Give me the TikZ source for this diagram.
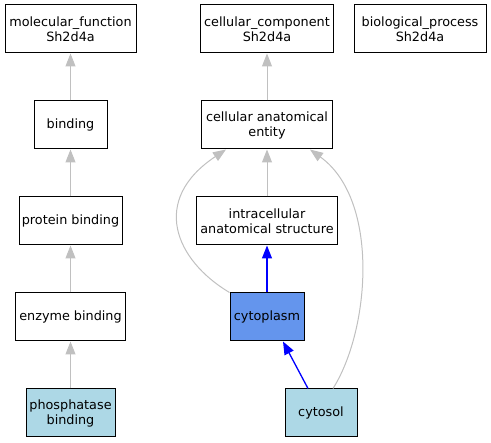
\documentclass[tikz,border=0pt]{standalone}
\usepackage{fontspec}
\setmainfont{DejaVu Sans}
\usepackage{xcolor}
\usetikzlibrary{arrows.meta}

\definecolor{edgegray}{HTML}{C0C0C0}
\definecolor{cytoblue}{HTML}{6495ED}
\definecolor{lightcyan}{HTML}{ADD8E6}

\tikzset{
    goterm/.style={draw=black, line width=1pt, align=center, inner sep=0pt,
        minimum height=48pt, font=\fontsize{12.8}{15}\selectfont},
    isa/.style={draw=edgegray, line width=1pt, -{Triangle[length=13pt,width=10pt]}},
    partof/.style={draw=blue, line width=1.3pt, -{Triangle[length=13pt,width=10pt]}}
}

\begin{document}
\begin{tikzpicture}[x=1pt, y=-1pt]
        \useasboundingbox (0,0) rectangle (491,443);

        % Draw the three roots
        \node[goterm, minimum width=131pt] (mf) at (70.5, 29) {molecular\_function\\Sh2d4a};
        \node[goterm, minimum width=133pt] (cc) at (267, 29) {cellular\_component\\Sh2d4a};
        \node[goterm, minimum width=132pt] (bp) at (420, 29) {biological\_process\\Sh2d4a};

        % Draw the function branch
        \node[goterm, minimum width=73pt] (binding) at (70.5, 125) {binding};
        \node[goterm, minimum width=103pt] (protein) at (70.5, 221) {protein binding};
        \node[goterm, minimum width=110pt] (enzyme) at (70.5, 317) {enzyme binding};
        \node[goterm, fill=lightcyan, minimum width=89pt] (phosphatase) at (70.5, 413) {phosphatase\\binding};

        % Draw the component branch
        \node[goterm, minimum width=131pt] (cae) at (267, 125) {cellular anatomical\\entity};
        \node[goterm, minimum width=141pt] (intra) at (267, 221) {intracellular\\anatomical structure};
        \node[goterm, fill=cytoblue, minimum width=74pt] (cytoplasm) at (267, 317) {cytoplasm};
        \node[goterm, fill=lightcyan, minimum width=72pt] (cytosol) at (321, 413) {cytosol};

        % Connect them
        \draw[isa] (binding) -- (mf);
        \draw[isa] (protein) -- (binding);
        \draw[isa] (enzyme) -- (protein);
        \draw[isa] (phosphatase) -- (enzyme);
        \draw[isa] (cae) -- (cc);
        \draw[isa] (intra) -- (cae);
        \draw[partof] (cytoplasm) -- (intra);
        \draw[partof] ([xshift=-13pt]cytosol.north) -- ([xshift=16pt]cytoplasm.south);
        \draw[isa] (cytoplasm.north west) .. controls (175, 260) and (150, 200) .. ([xshift=-41pt]cae.south);
        \draw[isa] ([xshift=12pt]cytosol.north) .. controls (370, 330) and (380, 200) .. ([xshift=43pt]cae.south);
    \end{tikzpicture}
\end{document}
